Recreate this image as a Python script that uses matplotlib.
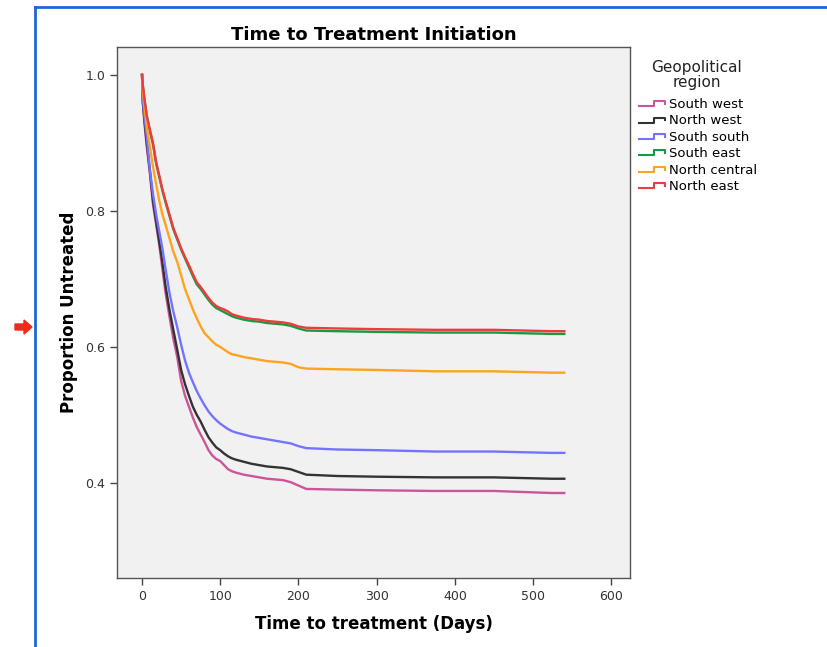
import matplotlib
matplotlib.use("Agg")
import matplotlib.pyplot as plt
from matplotlib.lines import Line2D
from matplotlib.patches import FancyArrow
from matplotlib.legend_handler import HandlerBase
import matplotlib.transforms as mtransforms

# days at which the survival estimates were read off
days = [0, 1, 3, 6, 10, 14, 18, 22, 26, 30, 35, 40, 45, 50, 55, 60, 65, 70, 75, 80,
        85, 90, 95, 100, 105, 110, 115, 120, 130, 140, 150, 160, 170, 180, 190, 200,
        210, 250, 300, 375, 450, 524, 540]

south_west = [1.0, 0.96, 0.93, 0.895, 0.855, 0.81, 0.78, 0.75, 0.715, 0.68, 0.645, 0.612,
              0.585, 0.55, 0.528, 0.512, 0.496, 0.482, 0.471, 0.46, 0.448, 0.44, 0.435,
              0.432, 0.426, 0.42, 0.417, 0.415, 0.412, 0.41, 0.408, 0.406, 0.405, 0.404,
              0.401, 0.396, 0.391, 0.39, 0.389, 0.388, 0.388, 0.385, 0.385]
north_west = [1.0, 0.96, 0.935, 0.9, 0.86, 0.815, 0.785, 0.755, 0.725, 0.69, 0.655, 0.625,
              0.596, 0.566, 0.545, 0.528, 0.512, 0.5, 0.49, 0.478, 0.467, 0.459, 0.452,
              0.448, 0.443, 0.439, 0.436, 0.434, 0.431, 0.428, 0.426, 0.424, 0.423, 0.422,
              0.42, 0.416, 0.412, 0.41, 0.409, 0.408, 0.408, 0.406, 0.406]
south_south = [1.0, 0.965, 0.94, 0.91, 0.86, 0.825, 0.795, 0.77, 0.745, 0.715, 0.68, 0.652,
               0.629, 0.603, 0.58, 0.562, 0.548, 0.535, 0.524, 0.514, 0.505, 0.498, 0.492,
               0.487, 0.483, 0.479, 0.476, 0.474, 0.471, 0.468, 0.466, 0.464, 0.462, 0.46,
               0.458, 0.454, 0.451, 0.449, 0.448, 0.446, 0.446, 0.444, 0.444]
south_east = [1.0, 0.985, 0.965, 0.94, 0.918, 0.898, 0.87, 0.85, 0.83, 0.813, 0.793, 0.773,
              0.758, 0.743, 0.73, 0.717, 0.704, 0.692, 0.685, 0.677, 0.669, 0.662, 0.657,
              0.654, 0.651, 0.648, 0.645, 0.643, 0.64, 0.638, 0.637, 0.635, 0.634, 0.633,
              0.631, 0.627, 0.624, 0.623, 0.622, 0.621, 0.621, 0.619, 0.619]
north_central = [1.0, 0.975, 0.955, 0.925, 0.895, 0.865, 0.84, 0.815, 0.795, 0.78, 0.76,
                 0.74, 0.725, 0.705, 0.685, 0.67, 0.655, 0.642, 0.63, 0.62, 0.614, 0.608,
                 0.603, 0.6, 0.596, 0.592, 0.589, 0.588, 0.585, 0.583, 0.581, 0.579, 0.578,
                 0.577, 0.575, 0.57, 0.568, 0.567, 0.566, 0.564, 0.564, 0.562, 0.562]
north_east = [1.0, 0.985, 0.965, 0.94, 0.92, 0.9, 0.872, 0.852, 0.832, 0.815, 0.795, 0.775,
              0.76, 0.745, 0.732, 0.72, 0.707, 0.695, 0.688, 0.68, 0.672, 0.665, 0.66,
              0.657, 0.655, 0.652, 0.648, 0.646, 0.643, 0.641, 0.64, 0.638, 0.637, 0.636,
              0.634, 0.63, 0.628, 0.627, 0.626, 0.625, 0.625, 0.623, 0.623]

regions = ["South west", "North west", "South south", "South east", "North central", "North east"]
series = [south_west, north_west, south_south, south_east, north_central, north_east]
colors = ["#cc5599", "#333333", "#7373ff", "#1a9944", "#ffa31f", "#ef3b3b"]


class StepHandler(HandlerBase):
    # little step glyph like the SPSS legend
    def create_artists(self, legend, orig_handle, xdescent, ydescent, width, height,
                       fontsize, trans):
        x0, y0 = -xdescent, -ydescent
        xs = [x0, x0 + 0.55 * width, x0 + 0.55 * width, x0 + width, x0 + width]
        ys = [y0 + 0.2 * height, y0 + 0.2 * height, y0 + 0.75 * height,
              y0 + 0.75 * height, y0 + 0.45 * height]
        ln = Line2D(xs, ys, color=orig_handle.get_color(), lw=1.5, transform=trans)
        return [ln]


fig = plt.figure(figsize=(8.27, 6.47), dpi=100)
ax = fig.add_axes([117 / 827, 1 - 578 / 647, 513 / 827, 531 / 647])
ax.set_facecolor("#f1f1f1")

lines = []
for name, vals, c in zip(regions, series, colors):
    ln, = ax.plot(days, vals, color=c, lw=1.7, label=name)
    lines.append(ln)

ax.set_xlim(-32, 624)
ax.set_ylim(0.26, 1.041)
ax.set_xticks([0, 100, 200, 300, 400, 500, 600])
ax.set_yticks([0.4, 0.6, 0.8, 1.0])
ax.set_yticklabels(["0.4", "0.6", "0.8", "1.0"])
ax.tick_params(direction="out", length=5, width=1, colors="#444444", labelsize=9,
               labelcolor="#333333")
for s in ax.spines.values():
    s.set_color("#555555")
    s.set_linewidth(1)

ax.set_title("Time to Treatment Initiation", fontsize=13, fontweight="bold", pad=5)
ax.set_xlabel("Time to treatment (Days)", fontsize=12, fontweight="bold", labelpad=9)
ax.set_ylabel("Proportion Untreated", fontsize=12, fontweight="bold", labelpad=5)

fig.text(697 / 827, 1 - 75 / 647, "Geopolitical\nregion", ha="center", va="center",
         fontsize=11, color="#222222", linespacing=1.05)

leg = ax.legend(handles=lines, labels=regions,
                handler_map={Line2D: StepHandler()},
                loc="upper left", bbox_to_anchor=(639 / 827, 1 - 98 / 647),
                bbox_transform=fig.transFigure, frameon=False, fontsize=9.5,
                handlelength=2.0, handletextpad=0.25,
                labelspacing=0.26, borderpad=0, borderaxespad=0)

# blue selection frame
fig.add_artist(Line2D([35 / 827, 1], [1 - 7 / 647, 1 - 7 / 647], transform=fig.transFigure,
                      color="#1f66d0", lw=2))
fig.add_artist(Line2D([35 / 827, 35 / 827], [0, 1 - 7 / 647], transform=fig.transFigure,
                      color="#1f66d0", lw=2))

# small red marker arrow
arrow = FancyArrow(15, 647 - 327, 9, 0, width=6, head_width=14, head_length=8,
                   length_includes_head=False, color="#ee2a1b",
                   transform=mtransforms.IdentityTransform())
fig.add_artist(arrow)

fig.savefig("out.png", dpi=100)
